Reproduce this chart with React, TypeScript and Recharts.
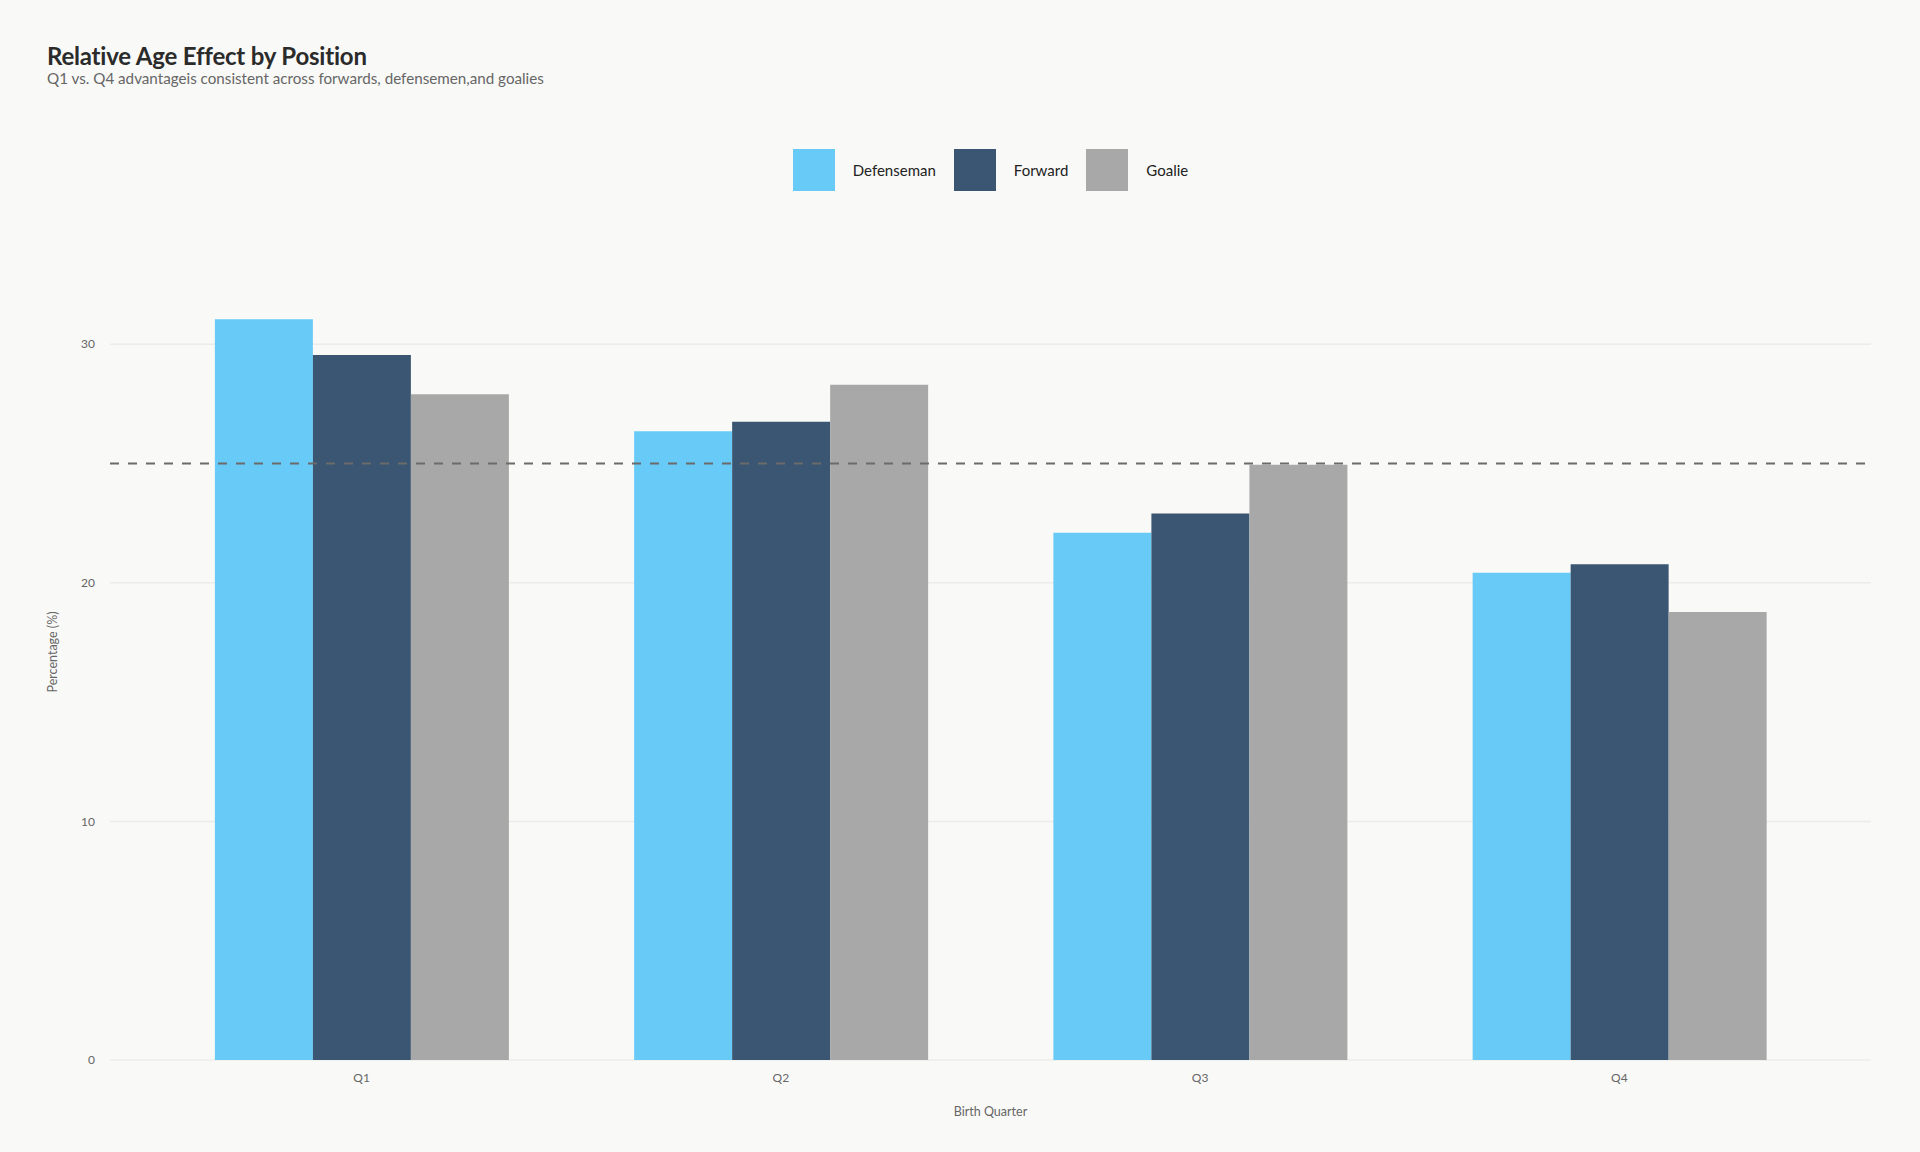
import { Bar, BarChart, CartesianGrid, ReferenceLine, XAxis, YAxis } from "recharts";

const quarters = ["Q1", "Q2", "Q3", "Q4"];
const defenseman = [31.05, 26.35, 22.1, 20.42];
const forward = [29.55, 26.75, 22.9, 20.78];
const goalie = [27.9, 28.3, 24.95, 18.78];
const yTicks = [0, 10, 20, 30];
const parity = 25;

const series = [
  { key: "Defenseman", color: "#68CAF7" },
  { key: "Forward", color: "#3A5672" },
  { key: "Goalie", color: "#A8A8A8" },
];

const data = quarters.map((q, i) => ({
  quarter: q,
  Defenseman: defenseman[i],
  Forward: forward[i],
  Goalie: goalie[i],
}));

const FONT = "Lato, 'Open Sans', sans-serif";
const tick = { fill: "#666", fontSize: 12, fontFamily: FONT };

export default function App() {
  return (
    <div
      style={{
        position: "absolute",
        top: 0,
        left: 0,
        width: 1920,
        height: 1152,
        background: "#F9F9F7",
        fontFamily: FONT,
      }}
    >
      <div style={{ position: "absolute", left: 47, top: 41, color: "#2b2b2b", fontSize: 24, fontWeight: 700, letterSpacing: -0.2 }}>
        Relative Age Effect by Position
      </div>
      <div style={{ position: "absolute", left: 47, top: 69, color: "#666", fontSize: 15.2 }}>
        Q1 vs. Q4 advantageis consistent across forwards, defensemen,and goalies
      </div>

      {/* legend sits over the plot area, not the whole page */}
      <div
        style={{
          position: "absolute",
          left: 110,
          width: 1761,
          top: 149,
          height: 42,
          display: "flex",
          justifyContent: "center",
          alignItems: "center",
          gap: 18,
        }}
      >
        {series.map((s) => (
          <div key={s.key} style={{ display: "flex", alignItems: "center" }}>
            <div style={{ width: 42, height: 42, background: s.color, marginRight: 18 }} />
            <span style={{ fontSize: 15, color: "#222" }}>{s.key}</span>
          </div>
        ))}
      </div>

      <div style={{ position: "absolute", top: 0, left: 0 }}>
        <BarChart
          width={1920}
          height={1152}
          data={data}
          margin={{ top: 244, right: 49, bottom: 32, left: 50 }}
          barCategoryGap="15%"
          barGap={0}
        >
          <CartesianGrid vertical={false} horizontalValues={yTicks} stroke="#ECECEA" strokeWidth={1.5} />
          <XAxis
            dataKey="quarter"
            height={60}
            padding={{ left: 42, right: 42 }}
            axisLine={false}
            tickLine={false}
            tickMargin={7}
            tick={tick}
            label={{ value: "Birth Quarter", position: "insideBottom", offset: 4, fill: "#666", fontSize: 12.5, fontFamily: FONT }}
          />
          <YAxis
            width={60}
            domain={[0, 34.2]}
            ticks={yTicks}
            axisLine={false}
            tickLine={false}
            tickMargin={9}
            tick={tick}
            label={{ value: "Percentage (%)", angle: -90, position: "insideLeft", offset: 3, fill: "#666", fontSize: 12.5, fontFamily: FONT, style: { textAnchor: "middle" } }}
          />
          {series.map((s) => (
            <Bar key={s.key} dataKey={s.key} fill={s.color} isAnimationActive={false} />
          ))}
          <ReferenceLine y={parity} stroke="#6B6B6B" strokeWidth={2} strokeDasharray="9 9" />
        </BarChart>
      </div>
    </div>
  );
}
